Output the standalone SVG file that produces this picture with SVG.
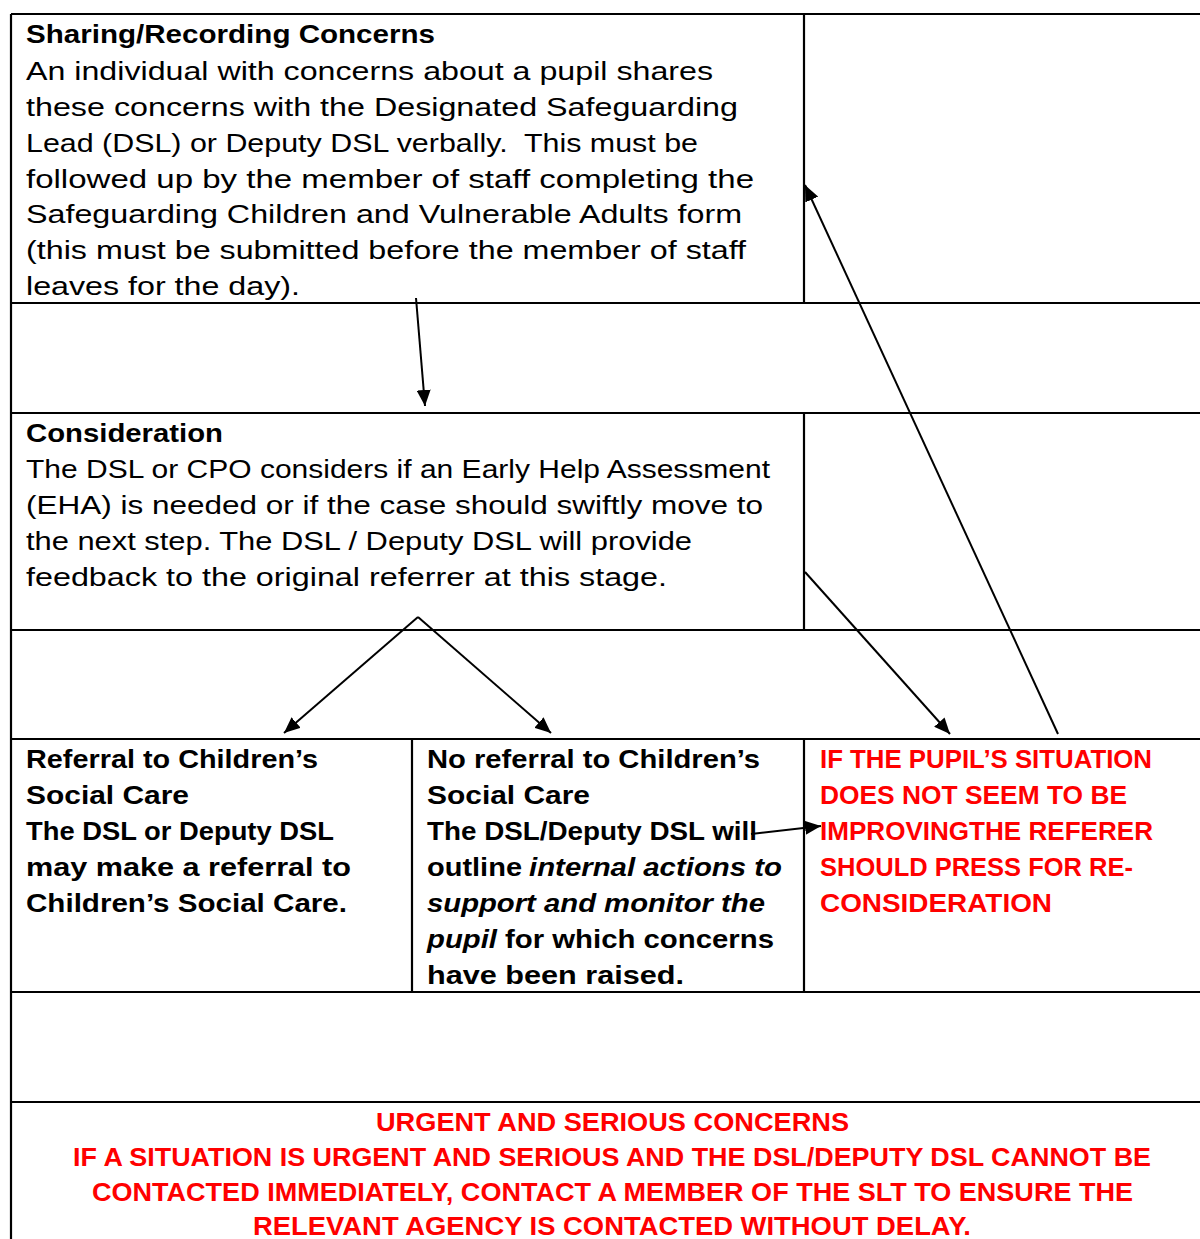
<svg xmlns="http://www.w3.org/2000/svg" width="1200" height="1239" viewBox="0 0 1200 1239">
<style>
.t{font-family:"Liberation Sans",Arial,sans-serif;font-size:25px;fill:#000}
.b{font-weight:bold}
.i{font-style:italic}
.r{fill:#FF0000;font-weight:bold}
.g{stroke:#000;stroke-width:2.2;fill:none}
.c{stroke:#000;stroke-width:2;fill:none;marker-end:url(#ah)}
</style>
<defs>
<marker id="ah" viewBox="0 0 16 14" refX="16" refY="7" markerWidth="16" markerHeight="14" markerUnits="userSpaceOnUse" orient="auto">
<path d="M0,0 L16,7 L0,14 Z" fill="#000"/>
</marker>
</defs>
<rect width="1200" height="1239" fill="#fff"/>
<g id="grid">
<path class="g" d="M11,14 H1200 M11,303 H1200 M11,413 H1200 M11,630 H1200 M11,739 H1200 M11,992 H1200 M11,1102 H1200 M11,14 V1239 M804,14 V303 M804,413 V630 M804,739 V992 M412,739 V992"/>
</g>
<g id="node-sharing">
<text class="t b" x="26" y="43" textLength="409" lengthAdjust="spacingAndGlyphs">Sharing/Recording Concerns</text>
<text class="t" x="26" y="80" textLength="687" lengthAdjust="spacingAndGlyphs">An individual with concerns about a pupil shares</text>
<text class="t" x="26" y="116" textLength="712" lengthAdjust="spacingAndGlyphs">these concerns with the Designated Safeguarding</text>
<text class="t" x="26" y="152" textLength="672" lengthAdjust="spacingAndGlyphs" xml:space="preserve">Lead (DSL) or Deputy DSL verbally.  This must be</text>
<text class="t" x="26" y="188" textLength="728" lengthAdjust="spacingAndGlyphs">followed up by the member of staff completing the</text>
<text class="t" x="26" y="223" textLength="716" lengthAdjust="spacingAndGlyphs">Safeguarding Children and Vulnerable Adults form</text>
<text class="t" x="26" y="259" textLength="720" lengthAdjust="spacingAndGlyphs">(this must be submitted before the member of staff</text>
<text class="t" x="26" y="295" textLength="274" lengthAdjust="spacingAndGlyphs">leaves for the day).</text>
</g>
<g id="node-consideration">
<text class="t b" x="26" y="442" textLength="197" lengthAdjust="spacingAndGlyphs">Consideration</text>
<text class="t" x="26" y="478" textLength="744" lengthAdjust="spacingAndGlyphs">The DSL or CPO considers if an Early Help Assessment</text>
<text class="t" x="26" y="514" textLength="737" lengthAdjust="spacingAndGlyphs">(EHA) is needed or if the case should swiftly move to</text>
<text class="t" x="26" y="550" textLength="666" lengthAdjust="spacingAndGlyphs">the next step. The DSL / Deputy DSL will provide</text>
<text class="t" x="26" y="586" textLength="641" lengthAdjust="spacingAndGlyphs">feedback to the original referrer at this stage.</text>
</g>
<g id="node-referral">
<text class="t b" x="26" y="768" textLength="292" lengthAdjust="spacingAndGlyphs">Referral to Children’s</text>
<text class="t b" x="26" y="804" textLength="163" lengthAdjust="spacingAndGlyphs">Social Care</text>
<text class="t b" x="26" y="840" textLength="308" lengthAdjust="spacingAndGlyphs">The DSL or Deputy DSL</text>
<text class="t b" x="26" y="876" textLength="325" lengthAdjust="spacingAndGlyphs">may make a referral to</text>
<text class="t b" x="26" y="912" textLength="321" lengthAdjust="spacingAndGlyphs">Children’s Social Care.</text>
</g>
<g id="node-no-referral">
<text class="t b" x="427" y="768" textLength="333" lengthAdjust="spacingAndGlyphs">No referral to Children’s</text>
<text class="t b" x="427" y="804" textLength="163" lengthAdjust="spacingAndGlyphs">Social Care</text>
<text class="t b" x="427" y="840" textLength="330" lengthAdjust="spacingAndGlyphs">The DSL/Deputy DSL will</text>
<text class="t b" x="427" y="876" textLength="95" lengthAdjust="spacingAndGlyphs">outline</text>
<text class="t b i" x="529" y="876" textLength="253" lengthAdjust="spacingAndGlyphs">internal actions to</text>
<text class="t b i" x="427" y="912" textLength="338" lengthAdjust="spacingAndGlyphs">support and monitor the</text>
<text class="t b i" x="427" y="948" textLength="70" lengthAdjust="spacingAndGlyphs">pupil</text>
<text class="t b" x="505" y="948" textLength="269" lengthAdjust="spacingAndGlyphs">for which concerns</text>
<text class="t b" x="427" y="984" textLength="257" lengthAdjust="spacingAndGlyphs">have been raised.</text>
</g>
<g id="node-reconsider">
<text class="t r" x="820" y="768" textLength="332" lengthAdjust="spacingAndGlyphs">IF THE PUPIL’S SITUATION</text>
<text class="t r" x="820" y="804" textLength="307" lengthAdjust="spacingAndGlyphs">DOES NOT SEEM TO BE</text>
<text class="t r" x="820" y="840" textLength="333" lengthAdjust="spacingAndGlyphs">IMPROVINGTHE REFERER</text>
<text class="t r" x="820" y="876" textLength="313" lengthAdjust="spacingAndGlyphs">SHOULD PRESS FOR RE-</text>
<text class="t r" x="820" y="912" textLength="232" lengthAdjust="spacingAndGlyphs">CONSIDERATION</text>
</g>
<g id="node-urgent">
<text class="t r" x="376" y="1131" textLength="473" lengthAdjust="spacingAndGlyphs">URGENT AND SERIOUS CONCERNS</text>
<text class="t r" x="73" y="1166" textLength="1078" lengthAdjust="spacingAndGlyphs">IF A SITUATION IS URGENT AND SERIOUS AND THE DSL/DEPUTY DSL CANNOT BE</text>
<text class="t r" x="92" y="1201" textLength="1041" lengthAdjust="spacingAndGlyphs">CONTACTED IMMEDIATELY, CONTACT A MEMBER OF THE SLT TO ENSURE THE</text>
<text class="t r" x="253" y="1235" textLength="718" lengthAdjust="spacingAndGlyphs">RELEVANT AGENCY IS CONTACTED WITHOUT DELAY.</text>
</g>
<g id="connectors">
<line class="c" x1="416" y1="298" x2="425" y2="406"/>
<line class="c" x1="418" y1="617" x2="284" y2="733"/>
<line class="c" x1="418" y1="617" x2="551" y2="733"/>
<line class="c" x1="805" y1="572" x2="950" y2="734"/>
<line class="c" x1="1058" y1="734" x2="805" y2="185"/>
<line class="c" x1="751" y1="834" x2="821" y2="826"/>
</g>
</svg>
